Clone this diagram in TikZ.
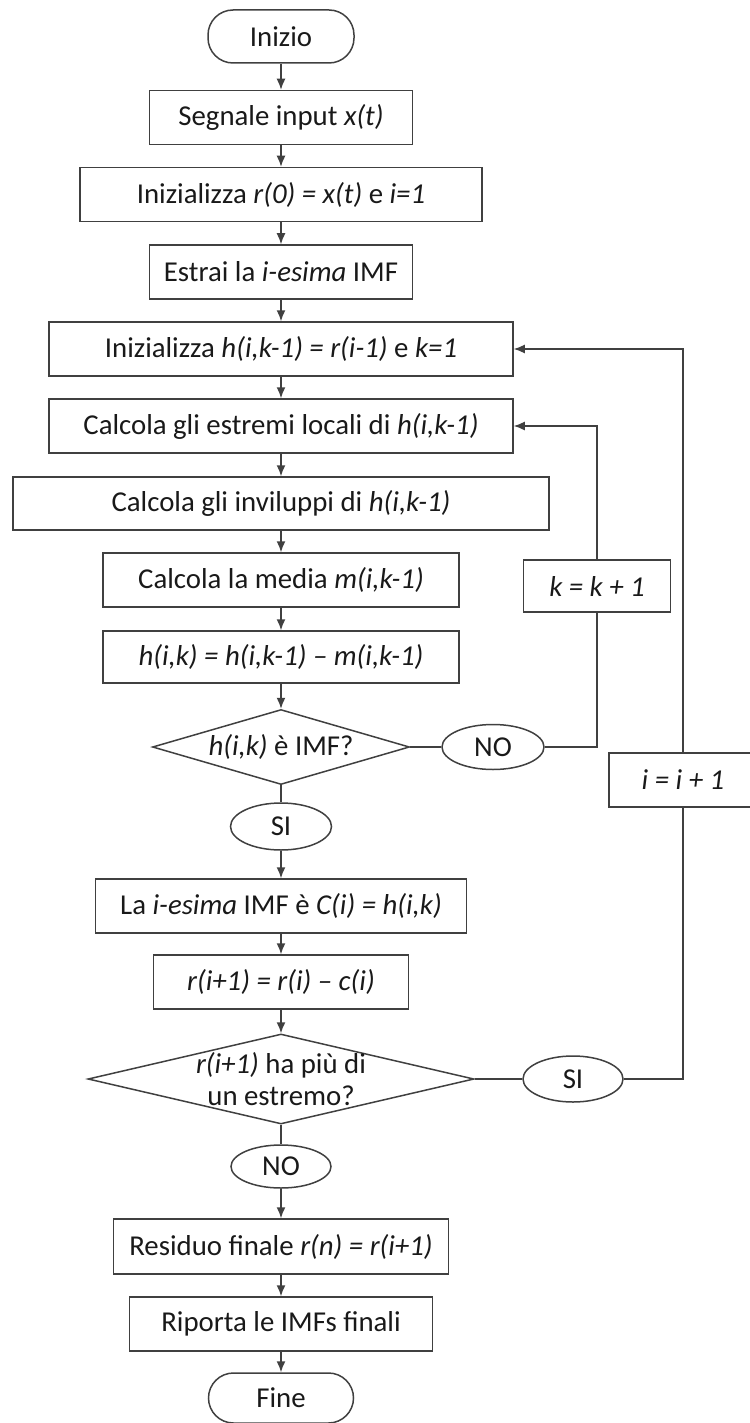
\documentclass[tikz,border=0pt]{standalone}
\usepackage{fontspec}
\setmainfont{Carlito}
\usetikzlibrary{shapes.geometric,arrows.meta}
\definecolor{edgegray}{gray}{0.25}
\begin{document}
\begin{tikzpicture}[x=0.5pt,y=-0.5pt,
  every node/.style={font=\fontsize{14.4}{16}\selectfont,text=black!90},
  box/.style={draw=edgegray,line width=0.75pt,inner sep=0pt,minimum height=27pt},
  term/.style={box,rounded corners=12.5pt},
  oval/.style={draw=edgegray,ellipse,line width=0.75pt,inner sep=0pt},
  decide/.style={draw=edgegray,diamond,line width=0.75pt,inner sep=-6pt,align=center},
  flow/.style={draw=edgegray,line width=0.75pt,-{Latex[length=5.5pt,width=4.5pt]}},
  link/.style={draw=edgegray,line width=0.75pt}]
  \useasboundingbox (0,0) rectangle (749,1423);
  % main column
  \node[term,minimum width=73pt,minimum height=26.5pt] (start) at (281,36.5) {Inizio};
  \node[box,minimum width=131.5pt] (input) at (281,117.5) {Segnale input \textit{x(t)}};
  \node[box,minimum width=201pt] (init) at (281,194.5) {Inizializza \textit{r(0) = x(t)} e \textit{i=1}};
  \node[box,minimum width=131.5pt] (estrai) at (281,272) {Estrai la \textit{i-esima} IMF};
  \node[box,minimum width=232pt] (inith) at (281,349) {Inizializza \textit{h(i,k-1) = r(i-1)} e \textit{k=1}};
  \node[box,minimum width=232pt] (estremi) at (281,426) {Calcola gli estremi locali di \textit{h(i,k-1)}};
  \node[box,minimum width=268pt,minimum height=26.5pt] (invil) at (281,503.5) {Calcola gli inviluppi di \textit{h(i,k-1)}};
  \node[box,minimum width=178pt] (media) at (281,580) {Calcola la media \textit{m(i,k-1)}};
  \node[box,minimum width=178pt,minimum height=26pt] (hik) at (281,657) {\textit{h(i,k) = h(i,k-1) – m(i,k-1)}};
  \node[decide,minimum width=128.5pt,minimum height=37.5pt,aspect=3.4] (dec1) at (281,747) {\textit{h(i,k)} è IMF?};
  \node[oval,minimum width=51pt,minimum height=22.5pt] (no1) at (493,747) {NO};
  \node[oval,minimum width=50.5pt,minimum height=23.5pt] (si1) at (281,826.5) {SI};
  \node[box,minimum width=185.5pt] (imf) at (281,906) {La \textit{i-esima} IMF è \textit{C(i) = h(i,k)}};
  \node[box,minimum width=127.5pt] (rnext) at (281,982) {\textit{r(i+1) = r(i) – c(i)}};
  \node[decide,minimum width=193pt,minimum height=45pt,aspect=4.3] (dec2) at (281,1079) {\textit{r(i+1)} ha più di\\un estremo?};
  \node[oval,minimum width=50pt,minimum height=23pt] (si2) at (573,1079) {SI};
  \node[oval,minimum width=50pt,minimum height=21.5pt] (no2) at (281,1166.5) {NO};
  \node[box,minimum width=167.5pt,minimum height=27.5pt] (resid) at (281,1246.5) {Residuo finale \textit{r(n) = r(i+1)}};
  \node[box,minimum width=151.5pt] (report) at (281,1324) {Riporta le IMFs finali};
  \node[term,minimum width=72.5pt,minimum height=25pt] (stop) at (281,1398) {Fine};
  % loop counters
  \node[box,minimum width=73.5pt,minimum height=26pt] (kstep) at (597,586) {\textit{k = k + 1}};
  \node[box,minimum width=74pt] (istep) at (683,780) {\textit{i = i + 1}};
  % connectors
  \foreach \a/\b in {start/input,input/init,init/estrai,estrai/inith,inith/estremi,
                     estremi/invil,invil/media,media/hik,hik/dec1,si1/imf,imf/rnext,
                     rnext/dec2,no2/resid,resid/report,report/stop}
    \draw[flow] (\a) -- (\b);
  \foreach \a/\b in {dec1/si1,dec1/no1,dec2/no2,dec2/si2}
    \draw[link] (\a) -- (\b);
  \draw[link] (no1) -| (kstep);
  \draw[flow] (kstep) |- (estremi);
  \draw[link] (si2) -| (istep);
  \draw[flow] (istep) |- (inith);
\end{tikzpicture}
\end{document}
